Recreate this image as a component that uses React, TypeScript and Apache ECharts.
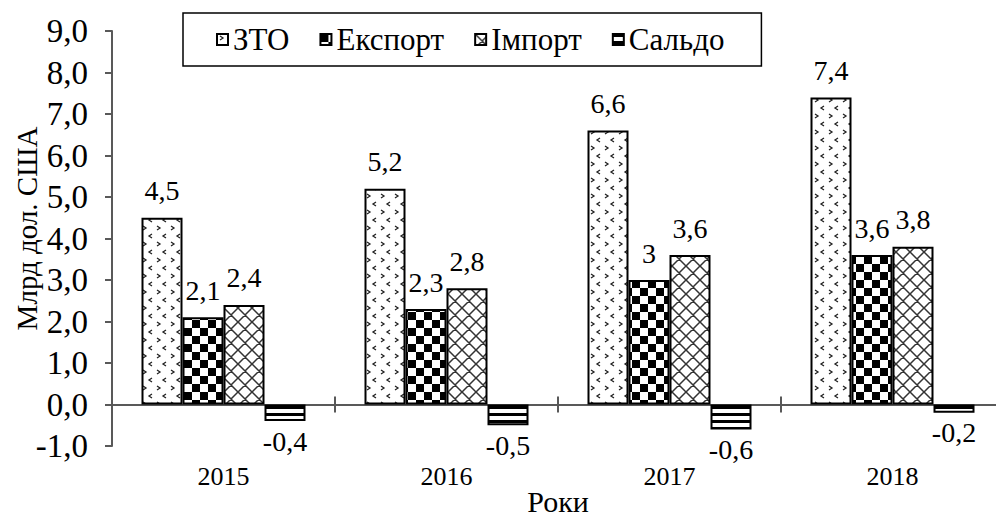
import React, { useEffect, useRef } from 'react';
import * as echarts from 'echarts';

const categories = ['2015', '2016', '2017', '2018'];
const seriesNames = ['ЗТО', 'Експорт', 'Імпорт', 'Сальдо'];
const ztoValues = [4.5, 5.2, 6.6, 7.4];
const exportValues = [2.1, 2.3, 3.0, 3.6];
const importValues = [2.4, 2.8, 3.6, 3.8];
const saldoValues = [-0.4, -0.5, -0.6, -0.2];
const yMin = -1;
const yMax = 9;
const yInterval = 1;
const xName = 'Роки';
const yName = 'Млрд дол. США';

const FONT = 'Liberation Serif';
const AXIS_COLOR = '#595959';

function makeTile(w: number, h: number, draw: (ctx: CanvasRenderingContext2D) => void) {
  const c = document.createElement('canvas');
  c.width = w;
  c.height = h;
  const ctx = c.getContext('2d') as CanvasRenderingContext2D;
  ctx.fillStyle = '#ffffff';
  ctx.fillRect(0, 0, w, h);
  draw(ctx);
  return { image: c, repeat: 'repeat', imageWidth: w, imageHeight: h } as any;
}

function ztoPattern() {
  return makeTile(14, 16, (ctx) => {
    ctx.strokeStyle = '#222';
    ctx.lineWidth = 1.3;
    ctx.beginPath();
    ctx.moveTo(3, 2); ctx.lineTo(6, 4); ctx.lineTo(3, 6);
    ctx.moveTo(12, 10); ctx.lineTo(9, 12); ctx.lineTo(12, 14);
    ctx.stroke();
  });
}
function checkerPattern() {
  return makeTile(16, 16, (ctx) => {
    ctx.fillStyle = '#000';
    ctx.fillRect(0, 0, 8, 8);
    ctx.fillRect(8, 8, 8, 8);
  });
}
function crossPattern() {
  return makeTile(14, 14, (ctx) => {
    ctx.strokeStyle = '#333';
    ctx.lineWidth = 1.5;
    ctx.beginPath();
    for (const k of [-14, 0, 14]) {
      ctx.moveTo(k, 0); ctx.lineTo(k + 14, 14);
      ctx.moveTo(k + 14, 0); ctx.lineTo(k, 14);
    }
    ctx.stroke();
  });
}
function stripePattern() {
  return makeTile(4, 7, (ctx) => {
    ctx.fillStyle = '#000';
    ctx.fillRect(0, 0, 4, 3);
  });
}

const fmt = (v: number) => String(v).replace('.', ',');

export default function App() {
  const ref = useRef<HTMLDivElement>(null);
  useEffect(() => {
    if (!ref.current) return;
    const chart = echarts.init(ref.current, undefined, { renderer: 'svg' });
    const patterns = [ztoPattern(), checkerPattern(), crossPattern(), stripePattern()];
    const values = [ztoValues, exportValues, importValues, saldoValues];
    const series = seriesNames.map((name, i) => ({
      name,
      type: 'bar',
      xAxisIndex: 0,
      yAxisIndex: 0,
      barWidth: 41,
      barGap: '0%',
      data: values[i],
      itemStyle: { color: patterns[i], borderColor: '#000', borderWidth: 2 },
      label: {
        show: true,
        position: i === 3 ? 'bottom' : 'top',
        distance: i === 3 ? 6 : 13,
        formatter: (p: any) => fmt(p.value),
        fontFamily: FONT,
        color: '#000',
        fontSize: 28,
      },
    }));
    chart.setOption({
      animation: false,
      backgroundColor: '#fff',
      textStyle: { fontFamily: FONT },
      legend: {
        left: 183,
        top: 13,
        padding: [11, 37, 11, 33],
        itemGap: 30,
        itemWidth: 11,
        itemHeight: 11,
        borderColor: '#000',
        borderWidth: 1.5,
        icon: 'rect',
        textStyle: { fontFamily: FONT, color: '#000', fontSize: 31 },
        data: seriesNames,
      },
      grid: { left: 112, top: 31, bottom: 76, width: 892, containLabel: false, outerBoundsMode: 'none' },
      xAxis: [
        {
          type: 'category',
          data: categories,
          position: 'bottom',
          axisLine: { show: false, onZero: false },
          axisTick: { show: false },
          axisLabel: { fontFamily: FONT, color: '#000', fontSize: 26, margin: 17 },
          name: xName,
          nameLocation: 'middle',
          nameGap: 40,
          nameMoveOverlap: false,
          nameTextStyle: { fontFamily: FONT, color: '#000', fontSize: 30, lineHeight: 30 },
        },
        {
          type: 'category',
          data: categories,
          position: 'bottom',
          axisLine: { show: true, onZero: true, onZeroAxisIndex: 0, lineStyle: { color: AXIS_COLOR, width: 2 } },
          axisTick: { show: true, length: 8, lineStyle: { color: AXIS_COLOR, width: 2 } },
          axisLabel: { show: false },
        },
        {
          type: 'category',
          data: categories,
          position: 'top',
          axisLine: { show: false, onZero: true, onZeroAxisIndex: 0 },
          axisTick: { show: true, length: 8, lineStyle: { color: AXIS_COLOR, width: 2 } },
          axisLabel: { show: false },
        },
      ],
      yAxis: {
        type: 'value',
        min: yMin,
        max: yMax,
        interval: yInterval,
        name: yName,
        nameLocation: 'middle',
        nameGap: 71,
        nameMoveOverlap: false,
        nameTextStyle: { fontFamily: FONT, color: '#000', fontSize: 29, padding: [0, 0, 0, 20] },
        axisLine: { show: true, lineStyle: { color: AXIS_COLOR, width: 2 } },
        axisTick: { show: true, length: 7, lineStyle: { color: AXIS_COLOR, width: 2 } },
        splitLine: { show: false },
        axisLabel: {
          fontFamily: FONT,
          color: '#000',
          fontSize: 33,
          margin: 24,
          formatter: (v: number) => v.toFixed(1).replace('.', ','),
        },
      },
      series,
    });
    return () => chart.dispose();
  }, []);
  return <div ref={ref} style={{ width: 996, height: 522, position: 'absolute', left: 0, top: 0 }} />;
}
